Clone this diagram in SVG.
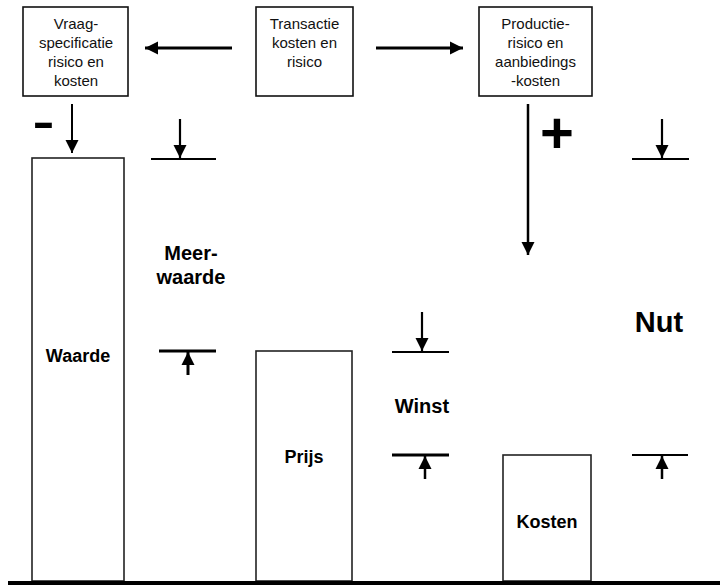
<svg xmlns="http://www.w3.org/2000/svg" width="720" height="585" viewBox="0 0 720 585">
<style>
  .box { fill: #fff; stroke: #111; stroke-width: 1.6; }
  .bar { fill: #fff; stroke: #222; stroke-width: 1.6; }
  .bt { font-family: "Liberation Sans", Arial, sans-serif; font-size: 15px; fill: #111; text-anchor: middle; }
  .lb { font-family: "Liberation Sans", Arial, sans-serif; font-weight: bold; fill: #000; text-anchor: middle; }
  .ln { stroke: #000; fill: none; }
</style>
<defs>
  <marker id="ah" markerUnits="userSpaceOnUse" markerWidth="14" markerHeight="14" viewBox="0 0 14 14" refX="13" refY="7" orient="auto">
    <path d="M0,0.5 L13,7 L0,13.5 Z" fill="#000"/>
  </marker>
</defs>

<g id="vraag">
  <rect class="box" x="23" y="7" width="105" height="89"/>
  <text class="bt" x="76" y="29">Vraag-</text>
  <text class="bt" x="76" y="48">specificatie</text>
  <text class="bt" x="76" y="67">risico en</text>
  <text class="bt" x="76" y="86">kosten</text>
</g>
<g id="transactie">
  <rect class="box" x="256" y="7" width="97" height="89"/>
  <text class="bt" x="304.5" y="29">Transactie</text>
  <text class="bt" x="304.5" y="48">kosten en</text>
  <text class="bt" x="304.5" y="67">risico</text>
</g>
<g id="productie">
  <rect class="box" x="479" y="7" width="113" height="89"/>
  <text class="bt" x="535.5" y="29">Productie-</text>
  <text class="bt" x="535.5" y="48">risico en</text>
  <text class="bt" x="535.5" y="67">aanbiedings</text>
  <text class="bt" x="535.5" y="86">-kosten</text>
</g>

<g id="waarde">
  <rect class="bar" x="32" y="158" width="92" height="423"/>
  <text class="lb" x="78" y="362" font-size="18">Waarde</text>
</g>
<g id="prijs">
  <rect class="bar" x="256" y="351" width="96" height="230"/>
  <text class="lb" x="304" y="463" font-size="18">Prijs</text>
</g>
<g id="kosten">
  <rect class="bar" x="503" y="455" width="88" height="126"/>
  <text class="lb" x="547" y="528" font-size="18">Kosten</text>
</g>

<g id="labels">
  <text class="lb" x="191" y="260" font-size="20">Meer-</text>
  <text class="lb" x="191" y="284" font-size="20">waarde</text>
  <text class="lb" x="422" y="413" font-size="20">Winst</text>
  <text class="lb" x="659" y="332" font-size="29">Nut</text>
  <text class="lb" transform="translate(43.5,137) scale(1.5,1)" x="0" y="0" font-size="44">-</text>
  <text class="lb" x="557" y="153" font-size="58">+</text>
</g>

<g id="connectors">
  <line class="ln" x1="232" y1="48" x2="145" y2="48" stroke-width="3" marker-end="url(#ah)"/>
  <line class="ln" x1="376" y1="48" x2="463" y2="48" stroke-width="3" marker-end="url(#ah)"/>
  <line class="ln" x1="72" y1="104" x2="72" y2="153" stroke-width="2" marker-end="url(#ah)"/>
  <line class="ln" x1="528" y1="104" x2="528" y2="255" stroke-width="2.5" marker-end="url(#ah)"/>

  <line class="ln" x1="180" y1="119" x2="180" y2="158" stroke-width="2.2" marker-end="url(#ah)"/>
  <line class="ln" x1="151" y1="159" x2="216" y2="159" stroke-width="2"/>
  <line class="ln" x1="662" y1="119" x2="662" y2="158" stroke-width="2.2" marker-end="url(#ah)"/>
  <line class="ln" x1="632" y1="159" x2="689" y2="159" stroke-width="2"/>

  <line class="ln" x1="159" y1="351" x2="216" y2="351" stroke-width="3"/>
  <line class="ln" x1="188" y1="375" x2="188" y2="352" stroke-width="3" marker-end="url(#ah)"/>

  <line class="ln" x1="422" y1="312" x2="422" y2="351" stroke-width="2.2" marker-end="url(#ah)"/>
  <line class="ln" x1="392" y1="352" x2="449" y2="352" stroke-width="2"/>

  <line class="ln" x1="392" y1="455" x2="449" y2="455" stroke-width="3"/>
  <line class="ln" x1="425" y1="479" x2="425" y2="456" stroke-width="2.5" marker-end="url(#ah)"/>

  <line class="ln" x1="632" y1="455" x2="688" y2="455" stroke-width="2"/>
  <line class="ln" x1="662" y1="479" x2="662" y2="456" stroke-width="2.5" marker-end="url(#ah)"/>

  <rect x="8" y="581" width="712" height="4" fill="#000"/>
</g>
</svg>
